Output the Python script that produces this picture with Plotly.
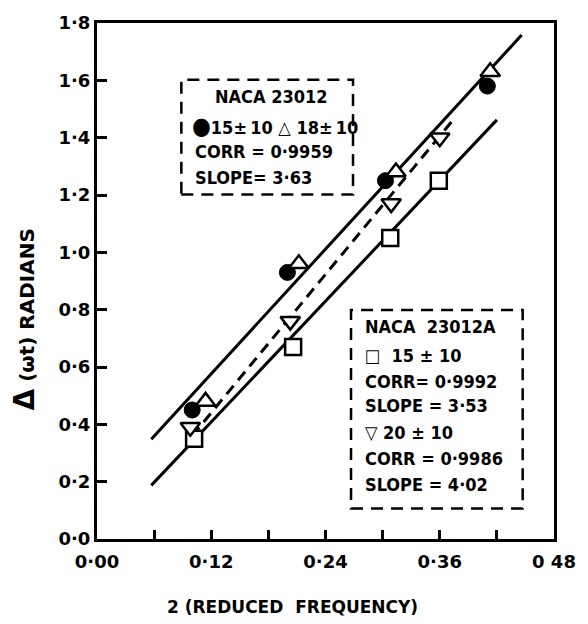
import plotly.graph_objects as go

# ---- data ----
circ_x = [0.100, 0.200, 0.303, 0.410]      # NACA 23012, 15 +/- 10 (filled circles)
circ_y = [0.45, 0.93, 1.25, 1.58]
tri_up_x = [0.114, 0.212, 0.314, 0.413]    # NACA 23012, 18 +/- 10 (open up triangles)
tri_up_y = [0.48, 0.96, 1.28, 1.63]
sq_x = [0.102, 0.206, 0.308, 0.359]        # NACA 23012A, 15 +/- 10 (squares)
sq_y = [0.35, 0.67, 1.05, 1.25]
tri_dn_x = [0.098, 0.203, 0.309, 0.360]    # NACA 23012A, 20 +/- 10 (down triangles)
tri_dn_y = [0.39, 0.76, 1.17, 1.40]

fit_23012_x = [0.057, 0.446]
fit_23012_y = [0.348, 1.758]
fit_sq_x = [0.057, 0.420]
fit_sq_y = [0.187, 1.462]
fit_dn_x = [0.100, 0.376]
fit_dn_y = [0.36, 1.47]

y_ticks = [0.0, 0.2, 0.4, 0.6, 0.8, 1.0, 1.2, 1.4, 1.6, 1.8]
y_labels = ["0·0", "0·2", "0·4", "0·6", "0·8", "1·0", "1·2", "1·4", "1·6", "1·8"]
x_ticks = [0.0, 0.06, 0.12, 0.18, 0.24, 0.30, 0.36, 0.42, 0.48]
x_labels = ["0·00", "", "0·12", "", "0·24", "", "0·36", "", "0 48"]

FONT = "DejaVu Sans Condensed, Liberation Sans Narrow, DejaVu Sans, sans-serif"
TICKFONT = dict(family="DejaVu Sans, sans-serif", size=18, color="black", weight="bold")
BOXFONT = dict(family=FONT, size=18, color="black", weight="bold")

fig = go.Figure()

line_style = dict(color="black", width=3)
fig.add_trace(go.Scatter(x=fit_23012_x, y=fit_23012_y, mode="lines", line=line_style))
fig.add_trace(go.Scatter(x=fit_sq_x, y=fit_sq_y, mode="lines", line=line_style))
fig.add_trace(go.Scatter(x=fit_dn_x, y=fit_dn_y, mode="lines",
                         line=dict(color="black", width=3, dash="11px,7px")))

fig.add_trace(go.Scatter(x=sq_x, y=sq_y, mode="markers",
                         marker=dict(symbol="square", size=16, color="white",
                                     line=dict(color="black", width=2.5))))
fig.add_trace(go.Scatter(x=tri_dn_x, y=tri_dn_y, mode="markers",
                         marker=dict(symbol="triangle-down", size=17, color="white",
                                     line=dict(color="black", width=2.5))))
fig.add_trace(go.Scatter(x=circ_x, y=circ_y, mode="markers",
                         marker=dict(symbol="circle", size=16, color="black",
                                     line=dict(color="black", width=1))))
fig.add_trace(go.Scatter(x=tri_up_x, y=tri_up_y, mode="markers",
                         marker=dict(symbol="triangle-up", size=17, color="white",
                                     line=dict(color="black", width=2.5))))

# dashed legend boxes
box_line = dict(color="black", width=2.5, dash="12px,8px")
fig.add_shape(type="rect", xref="x", yref="y", x0=0.0886, x1=0.2689, y0=1.202, y1=1.602,
              line=box_line, fillcolor="rgba(0,0,0,0)")
fig.add_shape(type="rect", xref="x", yref="y", x0=0.2668, x1=0.4471, y0=0.106, y1=0.799,
              line=box_line, fillcolor="rgba(0,0,0,0)")

box1 = [
    (0.1215, 1.544, "NACA 23012"),
    (0.0979, 1.441, '<span style="font-size:24px">●</span>15±\u200910 △ 18±\u200910'),
    (0.1010, 1.352, "CORR = 0·9959"),
    (0.1010, 1.260, "SLOPE= 3·63"),
]
box2 = [
    (0.2791, 0.741, "NACA  23012A"),
    (0.2791, 0.639, "□  15 ± 10"),
    (0.2791, 0.550, "CORR= 0·9992"),
    (0.2791, 0.464, "SLOPE = 3·53"),
    (0.2791, 0.372, "▽ 20 ± 10"),
    (0.2791, 0.280, "CORR = 0·9986"),
    (0.2791, 0.191, "SLOPE = 4·02"),
]
for x, y, t in box1 + box2:
    fig.add_annotation(x=x, y=y, xref="x", yref="y", text=t, showarrow=False,
                       xanchor="left", yanchor="middle", font=BOXFONT)

# axis titles
fig.add_annotation(xref="paper", yref="paper", x=-0.158, y=0.425,
                   text='<span style="font-size:28px">Δ</span> (ωt) RADIANS',
                   textangle=-90, showarrow=False, xanchor="center", yanchor="middle",
                   font=dict(family="DejaVu Sans, sans-serif", size=20, color="black", weight="bold"))
fig.add_annotation(xref="paper", yref="paper", x=0.427, y=-0.131,
                   text="2 (REDUCED  FREQUENCY)", showarrow=False,
                   xanchor="center", yanchor="middle",
                   font=dict(family="DejaVu Sans, sans-serif", size=17, color="black", weight="bold"))

fig.update_xaxes(range=[0, 0.48], tickvals=x_ticks, ticktext=x_labels, ticks="inside",
                 ticklen=9, tickwidth=2.5, tickcolor="black", showgrid=False, zeroline=False,
                 showline=True, linecolor="black", linewidth=3, mirror=True,
                 tickfont=TICKFONT, ticklabelstandoff=4)
fig.update_yaxes(range=[0, 1.8], tickvals=y_ticks, ticktext=y_labels, ticks="inside",
                 ticklen=10, tickwidth=2.5, tickcolor="black", showgrid=False, zeroline=False,
                 showline=True, linecolor="black", linewidth=3, mirror=True,
                 tickfont=TICKFONT)

fig.update_layout(width=588, height=624, showlegend=False,
                  margin=dict(l=97, r=25, t=12, b=85),
                  plot_bgcolor="white", paper_bgcolor="white")

fig.write_html("out.html")
